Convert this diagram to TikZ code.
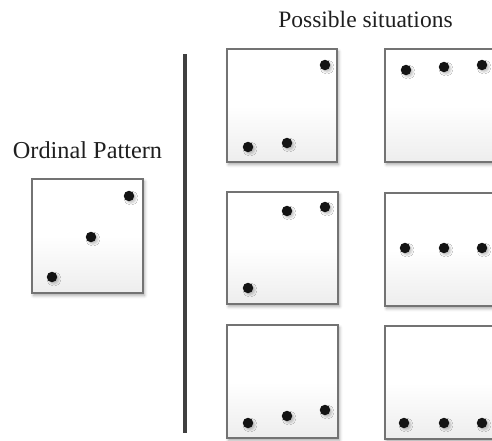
\documentclass[tikz,border=0pt]{standalone}
\usepackage{fontspec}
\setmainfont{Liberation Serif}
\usetikzlibrary{shadows.blur}
\begin{document}
\begin{tikzpicture}[x=1pt,y=-1pt,
  panel/.style={draw=black!55, line width=1.4pt, rectangle, inner sep=0pt,
    top color=white, bottom color=black!7, middle color=white,
    blur shadow={shadow xshift=1.5pt, shadow yshift=-2.5pt, shadow blur radius=3pt, shadow opacity=35}},
  dot/.style={circle, inner sep=0pt, minimum size=10.5pt, fill=black!92,
    blur shadow={shadow xshift=2pt, shadow yshift=-2pt, shadow blur radius=1.8pt, shadow opacity=22}},
  lbl/.style={font=\fontsize{23.5}{26}\selectfont, text=black!88, anchor=base, inner sep=0pt}]
\useasboundingbox (0,0) rectangle (492,440);
\clip (0,0) rectangle (492,440);

% labels
\node[lbl] (title) at (365.5,27) {Possible situations};
\node[lbl, font=\fontsize{24.3}{26}\selectfont] (ordlbl) at (87.5,158) {Ordinal Pattern};

% ordinal pattern panel
\node[panel, minimum width=111pt, minimum height=114pt] (ord) at (87.5,236) {};
\node[dot] (o1) at (52,277) {};
\node[dot] (o2) at (91,237) {};
\node[dot] (o3) at (129,196) {};

% separator
\coordinate (sepTop) at (185,54);
\coordinate (sepBot) at (185,433);
\draw[line width=3.5pt, black!75] (sepTop) -- (sepBot);

% possible situations: left column
\node[panel, minimum width=110pt, minimum height=113pt] (a1) at (282,105.5) {};
\node[dot] (a1d1) at (248,147) {};
\node[dot] (a1d2) at (287,143) {};
\node[dot] (a1d3) at (325,65) {};

\node[panel, minimum width=111pt, minimum height=112pt] (a2) at (282.5,248) {};
\node[dot] (a2d1) at (248,288) {};
\node[dot] (a2d2) at (287,211) {};
\node[dot] (a2d3) at (325,207) {};

\node[panel, minimum width=111pt, minimum height=113pt] (a3) at (282.5,381.5) {};
\node[dot] (a3d1) at (248,423) {};
\node[dot] (a3d2) at (287,416) {};
\node[dot] (a3d3) at (325,410) {};

% possible situations: right column
\node[panel, minimum width=110pt, minimum height=113pt] (b1) at (440,105.5) {};
\node[dot] (b1d1) at (406,70) {};
\node[dot] (b1d2) at (444,67) {};
\node[dot] (b1d3) at (482,65) {};

\node[panel, minimum width=110pt, minimum height=113pt] (b2) at (440,249.5) {};
\node[dot] (b2d1) at (405,248) {};
\node[dot] (b2d2) at (444,248) {};
\node[dot] (b2d3) at (482,248) {};

\node[panel, minimum width=110pt, minimum height=113pt] (b3) at (440,382.5) {};
\node[dot] (b3d1) at (404,423) {};
\node[dot] (b3d2) at (444,423) {};
\node[dot] (b3d3) at (482,423) {};
\end{tikzpicture}
\end{document}
